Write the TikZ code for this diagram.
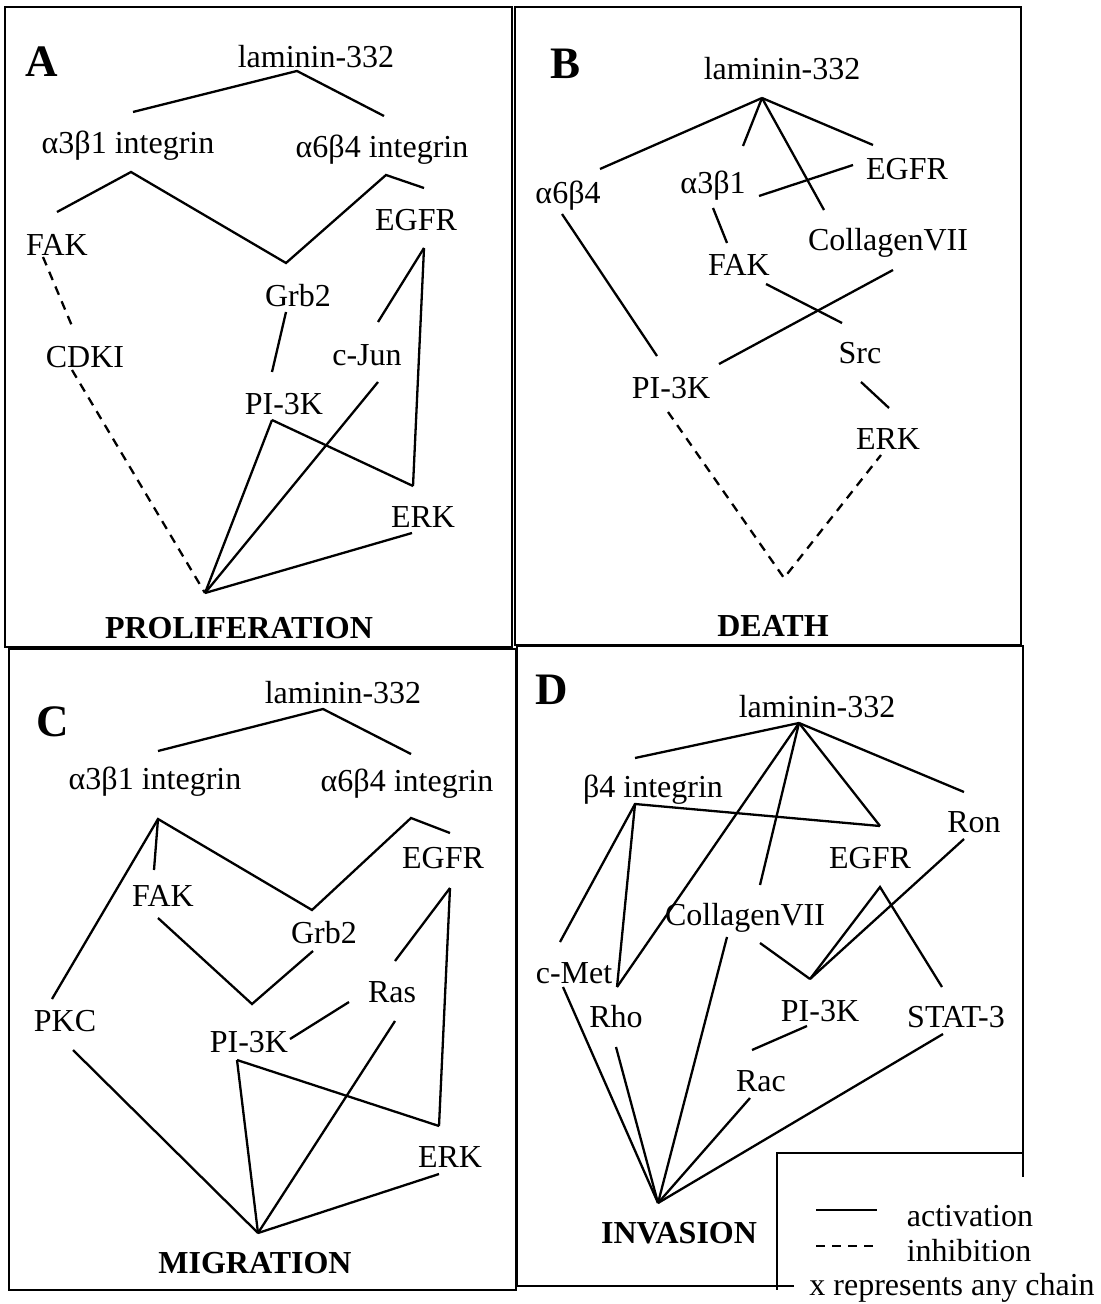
\documentclass[tikz,border=0pt]{standalone}
\usepackage{fontspec}
\setmainfont{Liberation Serif}
\tikzset{%
  protein/.style={
    inner sep=0pt,
    font=\fontsize{16}{19}\selectfont
  },
  outcome/.style={
    inner sep=0pt,
    font=\fontsize{16}{19}\selectfont\bfseries
  },
  panel label/.style={
    inner sep=0pt,
    font=\fontsize{22.5}{26}\selectfont\bfseries
  },
  activation/.style={line width=1.15pt},
  inhibition/.style={line width=1.15pt, dash pattern=on 4.5pt off 3.5pt},
  frame/.style={line width=1.1pt},
}

\begin{document}
\begin{tikzpicture}[x=0.5pt, y=-0.5pt]
\useasboundingbox (0,0) rectangle (1100,1304);

% A
\draw[frame] (5,7) rectangle (512,647);
\node[panel label] (lblA) at (42,62) {A};
\node[protein] (lamA) at (316,57) {laminin-332};
\node[protein] (a3b1A) at (128,146) {α3β1 integrin};
\node[protein] (a6b4A) at (382,150) {α6β4 integrin};
\node[protein] (fakA) at (57,245) {FAK};
\node[protein] (egfrA) at (416,220) {EGFR};
\node[protein] (grbA) at (298,296) {Grb2};
\node[protein] (cdkiA) at (85,357) {CDKI};
\node[protein] (junA) at (367,355) {c-Jun};
\node[protein] (pikA) at (284,404) {PI-3K};
\node[protein] (erkA) at (423,517) {ERK};
\node[outcome] (proA) at (239,628) {PROLIFERATION};
\coordinate (A_top) at (297,71);  \coordinate (A_itg1) at (133,112); \coordinate (A_itg2) at (384,116);
\coordinate (A_fak1) at (57,212); \coordinate (A_a3b1) at (131,172); \coordinate (A_grb1) at (286,263);
\coordinate (A_a6b4) at (386,175); \coordinate (A_egf1) at (424,188);
\coordinate (A_fak2) at (43,257); \coordinate (A_cdk1) at (72,326); \coordinate (A_cdk2) at (72,370);
\coordinate (A_grb2) at (286,312); \coordinate (A_pik1) at (272,372); \coordinate (A_pik2) at (272,420);
\coordinate (A_egf2) at (424,248); \coordinate (A_jun1) at (378,322); \coordinate (A_jun2) at (378,382);
\coordinate (A_erk1) at (413,486); \coordinate (A_erk2) at (412,533); \coordinate (A_pro) at (205,593);
\draw[activation] (A_itg1) -- (A_top) -- (A_itg2);
\draw[activation] (A_fak1) -- (A_a3b1) -- (A_grb1) -- (A_a6b4) -- (A_egf1);
\foreach \a/\b in {A_grb2/A_pik1, A_egf2/A_jun1, A_egf2/A_erk1, A_pik2/A_erk1,
                   A_pik2/A_pro, A_jun2/A_pro, A_erk2/A_pro}
  \draw[activation] (\a) -- (\b);
\draw[inhibition] (A_fak2) -- (A_cdk1);
\draw[inhibition] (A_cdk2) -- (A_pro);

% B
\draw[frame] (515,7) rectangle (1021,645);
\node[panel label] (lblB) at (565,64) {B};
\node[protein] (lamB) at (782,69) {laminin-332};
\node[protein] (a6b4B) at (568,196) {α6β4};
\node[protein] (a3b1B) at (713,186) {α3β1};
\node[protein] (egfrB) at (907,169) {EGFR};
\node[protein] (colB) at (888,243) {CollagenVII};
\node[protein] (fakB) at (739,265) {FAK};
\node[protein] (srcB) at (860,353) {Src};
\node[protein] (pikB) at (671,388) {PI-3K};
\node[protein] (erkB) at (888,439) {ERK};
\node[outcome] (deathB) at (773,626) {DEATH};
\coordinate (B_hub) at (762,98);
\coordinate (B_a6b41) at (600,169); \coordinate (B_a3b11) at (743,146);
\coordinate (B_col1) at (824,210); \coordinate (B_egf1) at (873,145);
\coordinate (B_a3b12) at (759,196); \coordinate (B_egf2) at (853,165);
\coordinate (B_a3b13) at (713,208); \coordinate (B_fak1) at (727,243);
\coordinate (B_a6b42) at (562,214); \coordinate (B_pik1) at (657,356);
\coordinate (B_col2) at (893,270); \coordinate (B_pik2) at (719,364);
\coordinate (B_fak2) at (766,284); \coordinate (B_src1) at (842,323);
\coordinate (B_src2) at (861,382); \coordinate (B_erk1) at (889,408);
\coordinate (B_pik3) at (668,412); \coordinate (B_erk2) at (881,455);
\coordinate (B_death) at (784,578);
\foreach \b in {B_a6b41, B_a3b11, B_col1, B_egf1}
  \draw[activation] (B_hub) -- (\b);
\foreach \a/\b in {B_a3b12/B_egf2, B_a3b13/B_fak1, B_a6b42/B_pik1, B_col2/B_pik2,
                   B_fak2/B_src1, B_src2/B_erk1}
  \draw[activation] (\a) -- (\b);
\draw[inhibition] (B_pik3) -- (B_death) -- (B_erk2);

% C
\draw[frame] (9,649) rectangle (516,1290);
\node[panel label] (lblC) at (53,722) {C};
\node[protein] (lamC) at (343,693) {laminin-332};
\node[protein] (a3b1C) at (155,782) {α3β1 integrin};
\node[protein] (a6b4C) at (407,784) {α6β4 integrin};
\node[protein] (fakC) at (163,896) {FAK};
\node[protein] (grbC) at (324,933) {Grb2};
\node[protein] (egfrC) at (443,858) {EGFR};
\node[protein] (rasC) at (392,992) {Ras};
\node[protein] (pkcC) at (65,1021) {PKC};
\node[protein] (pikC) at (249,1042) {PI-3K};
\node[protein] (erkC) at (450,1157) {ERK};
\node[outcome] (migC) at (255,1263) {MIGRATION};
\coordinate (C_top) at (323,709); \coordinate (C_itg1) at (158,751); \coordinate (C_itg2) at (411,754);
\coordinate (C_a3b1) at (158,819); \coordinate (C_pkc1) at (52,999); \coordinate (C_fak1) at (154,870);
\coordinate (C_grb1) at (312,910); \coordinate (C_a6b4) at (411,818); \coordinate (C_egf1) at (450,833);
\coordinate (C_fak2) at (158,918); \coordinate (C_pik1) at (252,1004); \coordinate (C_grb2) at (313,951);
\coordinate (C_ras1) at (349,1002); \coordinate (C_pik2) at (290,1039);
\coordinate (C_egf2) at (450,888); \coordinate (C_ras2) at (395,961); \coordinate (C_erk1) at (439,1126);
\coordinate (C_pik3) at (237,1060); \coordinate (C_ras3) at (395,1021); \coordinate (C_pkc2) at (73,1050);
\coordinate (C_erk2) at (439,1174); \coordinate (C_mig) at (258,1233);
\draw[activation] (C_itg1) -- (C_top) -- (C_itg2);
\draw[activation] (C_pkc1) -- (C_a3b1) -- (C_grb1) -- (C_a6b4) -- (C_egf1);
\draw[activation] (C_fak2) -- (C_pik1) -- (C_grb2);
\foreach \a/\b in {C_a3b1/C_fak1, C_ras1/C_pik2, C_egf2/C_ras2, C_egf2/C_erk1, C_pik3/C_erk1,
                   C_pik3/C_mig, C_ras3/C_mig, C_pkc2/C_mig, C_erk2/C_mig}
  \draw[activation] (\a) -- (\b);

% D
\draw[frame] (794,1286) -- (517,1286) -- (517,646) -- (1023,646) -- (1023,1177);
\draw[frame] (1023,1153) -- (777,1153) -- (777,1290);
\node[panel label] (lblD) at (552,690) {D};
\node[protein] (lamD) at (817,707) {laminin-332};
\node[protein] (b4D) at (653,790) {β4 integrin};
\node[protein] (ronD) at (974,822) {Ron};
\node[protein] (egfrD) at (870,858) {EGFR};
\node[protein] (colD) at (745,918) {CollagenVII};
\node[protein] (metD) at (574,973) {c-Met};
\node[protein] (rhoD) at (616,1017) {Rho};
\node[protein] (pikD) at (820,1011) {PI-3K};
\node[protein] (statD) at (956,1017) {STAT-3};
\node[protein] (racD) at (761,1081) {Rac};
\node[outcome] (invD) at (679,1233) {INVASION};
\coordinate (D_hub) at (799,723);
\coordinate (D_b41) at (635,758); \coordinate (D_egf1) at (880,826); \coordinate (D_ron1) at (964,792);
\coordinate (D_col1) at (760,885); \coordinate (D_rho1) at (617,987);
\coordinate (D_b42) at (635,804); \coordinate (D_met1) at (560,942);
\coordinate (D_egf2) at (880,887); \coordinate (D_pik1) at (810,979); \coordinate (D_stat1) at (942,987);
\coordinate (D_ron2) at (964,839); \coordinate (D_col2) at (760,943);
\coordinate (D_pik2) at (807,1026); \coordinate (D_rac1) at (752,1050);
\coordinate (D_met2) at (563,987); \coordinate (D_rho2) at (616,1047); \coordinate (D_col3) at (727,937);
\coordinate (D_rac2) at (750,1098); \coordinate (D_stat2) at (943,1034); \coordinate (D_inv) at (658,1203);
\foreach \b in {D_b41, D_egf1, D_ron1, D_col1, D_rho1}
  \draw[activation] (D_hub) -- (\b);
\draw[activation] (D_egf1) -- (D_b42) -- (D_met1);
\draw[activation] (D_b42) -- (D_rho1);
\draw[activation] (D_pik1) -- (D_egf2) -- (D_stat1);
\foreach \a/\b in {D_ron2/D_pik1, D_col2/D_pik1, D_pik2/D_rac1,
                   D_met2/D_inv, D_rho2/D_inv, D_col3/D_inv, D_rac2/D_inv, D_stat2/D_inv}
  \draw[activation] (\a) -- (\b);

% legend
\coordinate (key1a) at (816,1210); \coordinate (key1b) at (877,1210);
\coordinate (key2a) at (816,1246); \coordinate (key2b) at (877,1246);
\draw[activation] (key1a) -- (key1b);
\draw[inhibition] (key2a) -- (key2b);
\node[protein] (keyact) at (970,1216) {activation};
\node[protein] (keyinh) at (969,1251) {inhibition};
\node[protein] (keychain) at (952,1288) {x represents any chain};
\end{tikzpicture}
\end{document}
